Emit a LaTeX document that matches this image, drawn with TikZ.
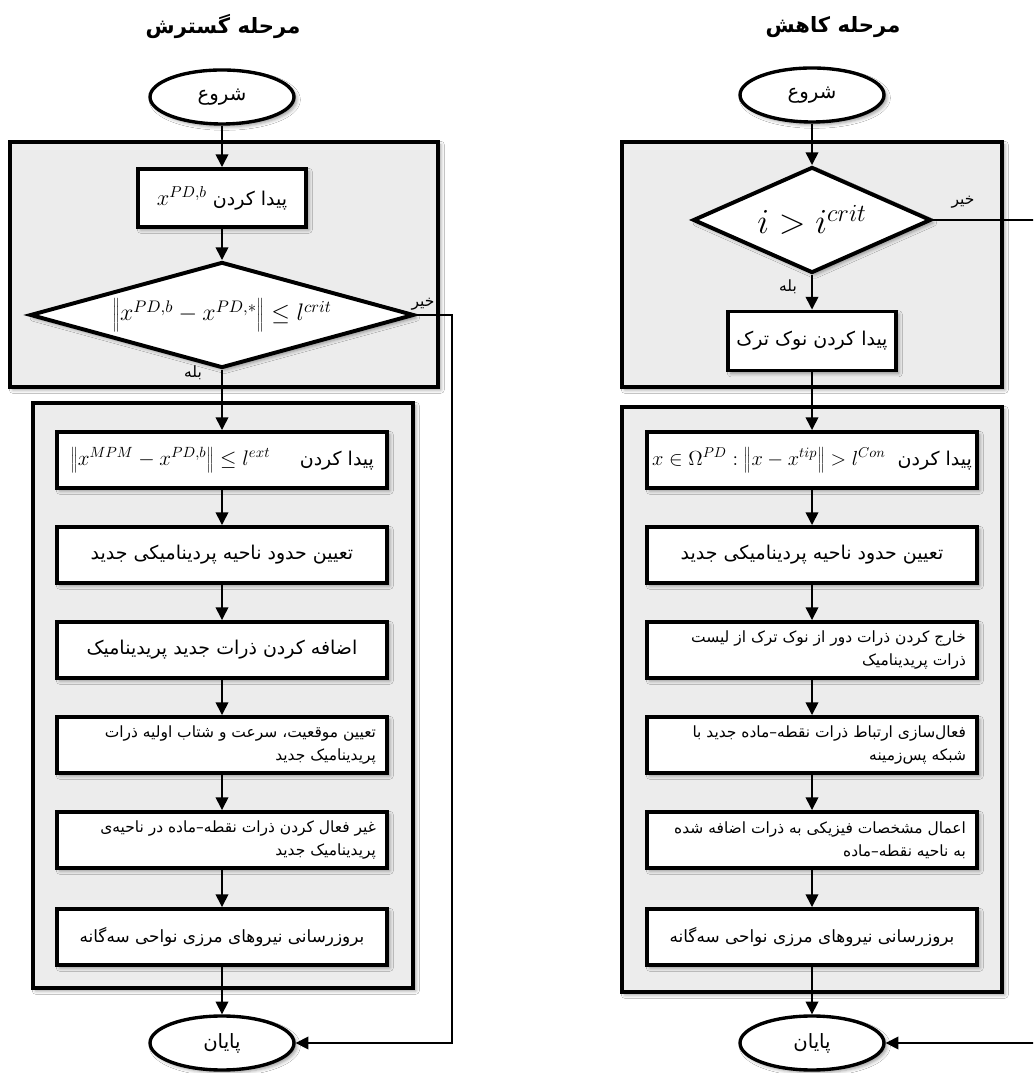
\documentclass[tikz,border=0pt]{standalone}
\usepackage{fix-cm}
\usepackage{fontspec}
\newfontfamily\persianfont[Script=Arabic]{DejaVu Sans}
\TeXXeTstate=1
\usetikzlibrary{shapes,arrows.meta,shadows.blur}

\newcommand\rtl[1]{\beginR#1\endR}
\newcommand\rline[1]{\makebox[7.7cm][r]{\rtl{#1}}}

\begin{document}
\begin{tikzpicture}[
  softshadow/.style={blur shadow={shadow xshift=2pt,shadow yshift=-2pt,shadow blur radius=2.5pt,shadow opacity=40}},
  stage/.style={rectangle,draw,line width=3pt,fill=gray!15,softshadow},
  procbox/.style={rectangle,draw,line width=2.8pt,fill=white,minimum width=8.25cm,minimum height=1.4cm,
    font=\persianfont\fontsize{13.5}{16.5}\selectfont,softshadow},
  twoline/.style={align=right,font=\persianfont\fontsize{11}{16.4}\selectfont},
  termnode/.style={ellipse,draw,line width=2.4pt,fill=white,minimum width=3.6cm,minimum height=1.35cm,
    font=\persianfont\fontsize{14}{16}\selectfont,softshadow},
  testnode/.style={diamond,draw,line width=2.8pt,fill=white,inner sep=0pt,minimum height=2.65cm,softshadow},
  arr/.style={-{Triangle[width=9pt,length=9pt]},line width=1.1pt},
  lbl/.style={font=\persianfont\fontsize{11}{13}\selectfont,inner sep=1pt},
  stagetitle/.style={font=\persianfont\bfseries\fontsize{15}{18}\selectfont}]

\clip (0,0) rectangle (25.825,26.825);
\fill[white] (0,0) rectangle (25.825,26.825);

% grey stage frames
\node[stage,minimum width=10.7cm,minimum height=6.125cm] (grpL1) at (5.6,20.2125) {};
\node[stage,minimum width=9.5cm,minimum height=14.625cm] (grpL2) at (5.575,9.4375) {};
\node[stage,minimum width=9.5cm,minimum height=6.125cm] (grpR1) at (20.3,20.2125) {};
\node[stage,minimum width=9.5cm,minimum height=14.625cm] (grpR2) at (20.3,9.3375) {};

\node[stagetitle] (titL) at (5.575,26.15) {\rtl{مرحله گسترش}};
\node[stagetitle] (titR) at (20.825,26.15) {\rtl{مرحله کاهش}};

% left column
\node[termnode] (startL) at (5.55,24.4) {\rtl{شروع}};
\node[procbox,minimum width=4.2cm,minimum height=1.45cm] (findL) at (5.55,21.875)
  {{\fontsize{16}{18}\selectfont$x^{PD,b}$}\ \rtl{پیدا کردن}};
\node[testnode,aspect=3.6,minimum width=9.6cm] (diaL) at (5.55,18.95)
  {\fontsize{17}{20}\selectfont$\left\|x^{PD,b}-x^{PD,*}\right\|\le l^{crit}$};
\node[procbox] (aL) at (5.55,15.325)
  {\makebox[7.6cm]{{\fontsize{15}{18}\selectfont$\left\|x^{MPM}-x^{PD,b}\right\|\le l^{ext}$}\hfill\rtl{پیدا کردن}}};
\node[procbox] (bL) at (5.55,12.95) {\rtl{تعیین حدود ناحیه پردینامیکی جدید}};
\node[procbox] (cL) at (5.55,10.575) {\rtl{اضافه کردن ذرات جدید پریدینامیک}};
\node[procbox,twoline] (dL) at (5.55,8.2)
  {\rline{تعیین موقعیت، سرعت و شتاب اولیه ذرات}\\\rline{پریدینامیک جدید}};
\node[procbox,twoline] (eL) at (5.55,5.825)
  {\rline{غیر فعال کردن ذرات نقطه–ماده در ناحیه‌ی}\\\rline{پریدینامیک جدید}};
\node[procbox,font=\persianfont\fontsize{12}{15}\selectfont] (fL) at (5.55,3.4)
  {\rtl{بروزرسانی نیروهای مرزی نواحی سه‌گانه}};
\node[termnode] (endL) at (5.55,0.75) {\rtl{پایان}};

\node[lbl] (yesL) at (4.825,17.5) {\rtl{بله}};
\node[lbl] (noLbl) at (10.575,19.225) {\rtl{خیر}};
\coordinate (noL) at (11.3,18.95);

% right column
\node[termnode] (startR) at (20.3,24.45) {\rtl{شروع}};
\node[testnode,aspect=2.25,minimum width=5.95cm] (diaR) at (20.3,21.325)
  {\fontsize{25}{28}\selectfont$i>i^{crit}$};
\node[procbox,minimum width=4.2cm,minimum height=1.475cm] (findR) at (20.3,18.3) {\rtl{پیدا کردن نوک ترک}};
\node[procbox] (aR) at (20.3,15.325)
  {{\fontsize{14.5}{17}\selectfont$x\in\Omega^{PD}:\left\|x-x^{tip}\right\|>l^{Con}$}\ \ \rtl{پیدا کردن}};
\node[procbox] (bR) at (20.3,12.95) {\rtl{تعیین حدود ناحیه پردینامیکی جدید}};
\node[procbox,twoline] (cR) at (20.3,10.575)
  {\rline{خارج کردن ذرات دور از نوک ترک از لیست}\\\rline{ذرات پریدینامیک}};
\node[procbox,twoline] (dR) at (20.3,8.2)
  {\rline{فعال‌سازی ارتباط ذرات نقطه–ماده جدید با}\\\rline{شبکه پس‌زمینه}};
\node[procbox,twoline] (eR) at (20.3,5.825)
  {\rline{اعمال مشخصات فیزیکی به ذرات اضافه شده}\\\rline{به ناحیه نقطه–ماده}};
\node[procbox,font=\persianfont\fontsize{12}{15}\selectfont] (fR) at (20.3,3.4)
  {\rtl{بروزرسانی نیروهای مرزی نواحی سه‌گانه}};
\node[termnode] (endR) at (20.3,0.75) {\rtl{پایان}};

\node[lbl] (yesR) at (19.7,19.65) {\rtl{بله}};
\node[lbl] (noRlbl) at (24.075,21.775) {\rtl{خیر}};
\coordinate (noR) at (26.3,21.325);

% connectors
\draw[arr] (startL) -- (findL);
\draw[arr] (findL) -- (diaL);
\draw[arr] (diaL) -- (aL);
\draw[arr] (aL) -- (bL);
\draw[arr] (bL) -- (cL);
\draw[arr] (cL) -- (dL);
\draw[arr] (dL) -- (eL);
\draw[arr] (eL) -- (fL);
\draw[arr] (fL) -- (endL);
\draw[arr] (diaL.east) -- (noL) |- (endL.east);

\draw[arr] (startR) -- (diaR);
\draw[arr] (diaR) -- (findR);
\draw[arr] (findR) -- (aR);
\draw[arr] (aR) -- (bR);
\draw[arr] (bR) -- (cR);
\draw[arr] (cR) -- (dR);
\draw[arr] (dR) -- (eR);
\draw[arr] (eR) -- (fR);
\draw[arr] (fR) -- (endR);
\draw[arr] (diaR.east) -- (noR) |- (endR.east);
\end{tikzpicture}
\end{document}
